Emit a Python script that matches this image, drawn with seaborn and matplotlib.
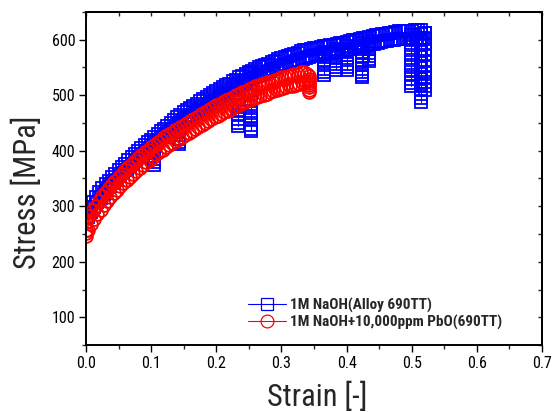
import numpy as np
import pandas as pd
import matplotlib
matplotlib.use("Agg")
from matplotlib import pyplot as plt
from matplotlib.ticker import MultipleLocator
import seaborn as sns

# tensile test readings, one every 0.0025 strain
STEP = 0.0025

blue_stress = [290, 280, 299, 290, 308, 298, 316, 307, 325, 315, 333, 322,
               340, 329, 346, 336, 353, 342, 359, 348, 365, 354, 371, 360,
               377, 366, 383, 371, 388, 377, 394, 382, 399, 388, 405, 393,
               410, 399, 415, 404, 420, 409, 425, 414, 430, 419, 435, 424,
               440, 429, 445, 434, 450, 439, 455, 444, 460, 448, 465, 453,
               469, 457, 473, 461, 477, 465, 481, 469, 485, 473, 489, 477,
               493, 481, 497, 484, 500, 488, 504, 491, 507, 495, 511, 498,
               514, 502, 518, 505, 521, 509, 525, 512, 528, 516, 532, 519,
               535, 523, 538, 526, 541, 529, 544, 532, 547, 534, 550, 537,
               552, 539, 555, 542, 557, 544, 560, 547, 562, 549, 565, 552,
               567, 554, 569, 556, 571, 558, 573, 560, 575, 562, 577, 564,
               579, 566, 581, 567, 582, 569, 584, 570, 585, 572, 586, 573,
               587, 574, 588, 575, 589, 576, 590, 577, 591, 578, 593, 579,
               594, 581, 595, 582, 596, 583, 598, 584, 599, 586, 600, 587,
               601, 588, 603, 589, 604, 591, 605, 592, 606, 593, 608, 594,
               609, 596, 610, 597, 611, 598, 612, 599, 613, 600, 614, 601,
               615, 601, 616, 602, 616, 602, 616, 602, 616, 602, 617, 603,
               617, 603, 617, 603, 612]

red_stress = [272, 257, 282, 268, 293, 277, 301, 286, 310, 294, 318, 302,
              326, 309, 333, 316, 340, 323, 346, 330, 353, 336, 359, 342,
              365, 348, 370, 353, 376, 359, 381, 364, 387, 369, 392, 374,
              397, 379, 402, 384, 407, 389, 411, 394, 416, 398, 420, 402,
              424, 406, 428, 410, 432, 414, 436, 418, 440, 422, 443, 425,
              447, 429, 450, 432, 454, 436, 457, 439, 461, 443, 464, 446,
              468, 450, 471, 453, 475, 457, 478, 460, 482, 463, 485, 466,
              488, 469, 491, 472, 494, 475, 497, 478, 500, 481, 503, 484,
              506, 487, 508, 490, 511, 492, 513, 495, 516, 497, 518, 499,
              520, 501, 522, 503, 524, 505, 526, 507, 528, 509, 530, 511,
              532, 513, 533, 514, 535, 516, 536, 517, 538, 519, 539, 520,
              541, 522, 542, 523, 538]

# first readings of the PbO test (strain 0) and the final load drop
red_start_stress = [246, 252, 258]
red_end_strain = 0.342
red_end_stress = [534, 530, 526, 522, 518, 514, 510, 506]

# load drops of the NaOH test: strain, then stresses read down the stack
blue_drop_strain = [0.105, 0.142, 0.233, 0.253, 0.366, 0.384,
                    0.400, 0.423, 0.434, 0.499, 0.514, 0.520]
blue_drop_stress = [
    [415, 409, 403, 397, 391, 385, 380, 374],
    [450, 443, 436, 429, 422, 416, 412],
    [522, 512, 502, 492, 483, 474, 465, 457, 450, 444],
    [540, 530, 520, 510, 500, 490, 481, 472, 463, 455, 447, 440, 435],
    [578, 570, 562, 555, 548, 542, 537],
    [583, 576, 569, 562, 556, 550, 546],
    [588, 580, 572, 564, 556, 550, 546],
    [594, 586, 578, 570, 562, 555, 548, 542, 537, 532],
    [597, 590, 583, 576, 570, 565, 561],
    [609, 600, 591, 582, 573, 564, 555, 546, 537, 529, 522, 516],
    [610, 600, 590, 580, 570, 560, 550, 540, 530, 520, 511, 503, 495, 488],
    [612, 602, 592, 582, 572, 562, 552, 542, 533, 524, 516, 510],
]

BLUE = "#0000ff"
RED = "#ff0000"
LABEL_BLUE = "1M NaOH(Alloy 690TT)"
LABEL_RED = "1M NaOH+10,000ppm PbO(690TT)"

blue = pd.DataFrame({"strain": [i * STEP for i in range(len(blue_stress))],
                     "stress": blue_stress})
red = pd.DataFrame({"strain": [0.0] * len(red_start_stress) + [i * STEP for i in range(len(red_stress))],
                    "stress": red_start_stress + red_stress})
red_end = pd.DataFrame({"strain": [red_end_strain] * len(red_end_stress),
                        "stress": red_end_stress})
drops = pd.DataFrame({
    "drop": [k for k, s in enumerate(blue_drop_stress) for _ in s],
    "strain": [blue_drop_strain[k] for k, s in enumerate(blue_drop_stress) for _ in s],
    "stress": [v for s in blue_drop_stress for v in s],
})

sns.set_style("ticks")
plt.rcParams["font.family"] = ["Liberation Sans Narrow", "Roboto Condensed", "DejaVu Sans"]
plt.rcParams["font.stretch"] = "condensed"

fig = plt.figure(figsize=(5.56, 4.12), dpi=100)
ax = fig.add_axes([0.1547, 0.1626, 0.8201, 0.8083])

sq = dict(marker="s", markersize=8.0, markerfacecolor="none", markeredgecolor=BLUE,
          markeredgewidth=1.3, linewidth=0.8, color=BLUE)
ci = dict(marker="o", markersize=9.2, markerfacecolor="none", markeredgecolor=RED,
          markeredgewidth=1.3, linewidth=0.8, color=RED)

sns.lineplot(data=blue, x="strain", y="stress", sort=False, estimator=None, ax=ax,
             label=LABEL_BLUE, **sq)
sns.lineplot(data=drops, x="strain", y="stress", units="drop", sort=False,
             estimator=None, ax=ax, **sq)
sns.lineplot(data=red, x="strain", y="stress", sort=False, estimator=None, ax=ax,
             label=LABEL_RED, **ci)
sns.lineplot(data=red_end, x="strain", y="stress", sort=False, estimator=None, ax=ax, **ci)

ax.set_xlim(0, 0.7)
ax.set_ylim(50, 650)
ax.xaxis.set_major_locator(MultipleLocator(0.1))
ax.xaxis.set_minor_locator(MultipleLocator(0.05))
ax.yaxis.set_major_locator(MultipleLocator(100))
ax.yaxis.set_minor_locator(MultipleLocator(50))
ax.tick_params(which="major", direction="out", length=4.8, width=1.0, labelsize=11.5,
               pad=3, colors="black")
ax.tick_params(which="minor", direction="out", length=2.8, width=1.0)

# mirrored ticks pointing inward on top and right
top = ax.secondary_xaxis("top")
top.xaxis.set_major_locator(MultipleLocator(0.1))
top.xaxis.set_minor_locator(MultipleLocator(0.05))
top.tick_params(which="both", direction="in", length=3, width=1.0, labeltop=False)
right = ax.secondary_yaxis("right")
right.yaxis.set_major_locator(MultipleLocator(100))
right.yaxis.set_minor_locator(MultipleLocator(50))
right.tick_params(which="both", direction="in", length=3, width=1.0, labelright=False)

for a in (ax, top, right):
    for sp in a.spines.values():
        sp.set_linewidth(1.4)
        sp.set_color("black")

ax.set_xlabel("Strain [-]", fontsize=22)
ax.set_ylabel("Stress [MPa]", fontsize=22)
ax.xaxis.set_label_coords(0.507, -0.11)
ax.yaxis.set_label_coords(-0.096, 0.46)

leg = ax.legend(loc="lower left", bbox_to_anchor=(0.355, 0.045), frameon=False,
                borderpad=0, borderaxespad=0, handlelength=2.5, handletextpad=0.25,
                labelspacing=0.15, prop={"size": 11, "weight": "bold"})
for h in leg.legend_handles:
    h.set_markeredgewidth(0.9)

fig.savefig("out.png", dpi=100)
